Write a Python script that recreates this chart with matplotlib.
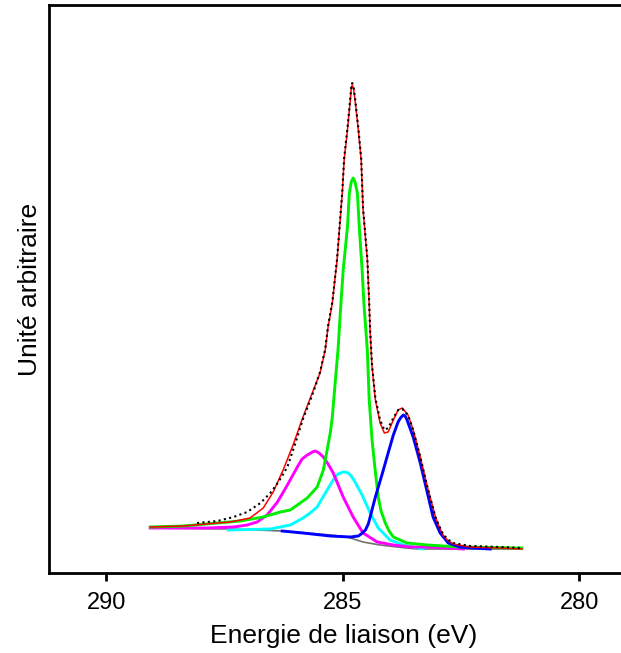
import matplotlib
matplotlib.use("Agg")
import matplotlib.pyplot as plt

plt.rcParams['font.family'] = ['Liberation Sans', 'DejaVu Sans']

# Binding energy (eV) / intensity (arbitrary units)
exp_E = [288.08, 287.65, 287.31, 287.02, 286.74, 286.53, 286.36, 286.17, 286.00, 285.84,
         285.62, 285.48, 285.37, 285.31, 285.22, 285.12, 285.01, 284.97, 284.90, 284.84,
         284.82, 284.80, 284.77, 284.74, 284.67, 284.61, 284.57, 284.48, 284.44, 284.42,
         284.38, 284.31, 284.21, 284.12, 284.04, 283.93, 283.83, 283.74, 283.62, 283.51,
         283.36, 283.21, 283.04, 282.96, 282.88, 282.79, 282.66, 282.30, 281.67, 281.25]
exp_I = [50, 52, 56, 61, 70, 80, 91, 106, 130, 154,
         181, 201, 224, 247, 271, 314, 381, 415, 445, 475,
         486, 490, 486, 475, 445, 415, 365, 315, 270, 242,
         208, 175, 153, 143, 145, 155, 163, 164, 158, 143,
         116, 86, 56, 47, 39, 34, 30, 27, 26, 25]

fit_E = [289.07, 288.37, 287.65, 287.38, 286.96, 286.68, 286.47, 286.26, 286.05, 285.84,
         285.62, 285.48, 285.37, 285.31, 285.22, 285.12, 285.01, 284.97, 284.90, 284.84,
         284.82, 284.80, 284.77, 284.74, 284.67, 284.61, 284.57, 284.48, 284.44, 284.42,
         284.38, 284.31, 284.21, 284.12, 284.04, 283.93, 283.83, 283.74, 283.62, 283.51,
         283.36, 283.21, 283.04, 282.96, 282.88, 282.79, 282.66, 282.30, 281.67, 281.21]
fit_I = [46, 47, 50, 51, 55, 65, 81, 103, 128, 156,
         183, 200, 223, 246, 270, 313, 380, 413, 443, 473,
         484, 488, 484, 473, 443, 413, 363, 313, 268, 240,
         206, 173, 150, 140, 141, 153, 163, 165, 158, 143,
         116, 86, 56, 46, 38, 33, 29, 26, 25, 24]

c1_E = [289.07, 288.37, 287.65, 287.17, 286.68, 286.32, 286.11, 285.96, 285.75, 285.54,
        285.41, 285.33, 285.26, 285.22, 285.16, 285.10, 285.05, 284.99, 284.90, 284.86,
        284.82, 284.78, 284.74, 284.69, 284.65, 284.59, 284.55, 284.48, 284.44, 284.38,
        284.33, 284.25, 284.19, 284.10, 284.02, 283.93, 283.64, 283.21, 282.52, 281.21]
c1_I = [46, 47, 50, 52, 56, 61, 63, 68, 75, 86,
        103, 123, 141, 156, 190, 223, 261, 303, 346, 380,
        391, 395, 391, 380, 346, 303, 268, 223, 173, 133,
        110, 76, 62, 50, 42, 36, 30, 28, 26, 25]

c2_E = [289.07, 287.86, 287.31, 287.02, 286.81, 286.60, 286.38, 286.17, 285.96, 285.86,
        285.75, 285.64, 285.58, 285.50, 285.41, 285.31, 285.20, 284.99, 284.78, 284.57,
        284.27, 283.93, 283.57, 283.15, 282.45]
c2_I = [45, 45, 46, 48, 51, 58, 71, 88, 106, 114,
        118, 121, 122, 120, 116, 109, 100, 76, 56, 40,
        31, 28, 26, 26, 24]

c3_E = [287.42, 286.53, 286.11, 285.84, 285.69, 285.54, 285.43, 285.33, 285.24, 285.16,
        285.10, 284.99, 284.95, 284.88, 284.82, 284.74, 284.59, 284.42, 284.25, 284.00,
        283.72, 283.30]
c3_I = [43, 44, 48, 55, 60, 66, 75, 83, 90, 96,
        99, 101, 101, 100, 97, 91, 78, 60, 45, 33,
        28, 24]

c4_E = [286.28, 285.84, 285.26, 284.84, 284.67, 284.61, 284.52, 284.46, 284.42, 284.31,
        284.16, 284.04, 283.93, 283.83, 283.78, 283.72, 283.68, 283.64, 283.51, 283.36,
        283.21, 283.09, 282.94, 282.77, 282.52, 282.24, 281.88]
c4_I = [42, 40, 37, 36, 37, 39, 43, 49, 56, 76,
        100, 120, 138, 151, 155, 158, 157, 153, 136, 110,
        80, 56, 40, 30, 26, 25, 24]

bg_E = [289.07, 287.38, 286.28, 285.26, 284.90, 284.57, 284.21, 283.85, 283.43, 281.21]
bg_I = [45, 44, 42, 38, 36, 31, 28, 26, 24, 24]

x_ticks = [290, 285, 280]

fig = plt.figure(figsize=(6.21, 6.53), dpi=100)
ax = fig.add_axes([0.0789, 0.1225, 0.95, 0.8698])

ax.plot(bg_E, bg_I, color='#707070', lw=1.2)
ax.plot(c3_E, c3_I, color='#00ffff', lw=2.1)
ax.plot(c2_E, c2_I, color='#ff00ff', lw=2.1)
ax.plot(c1_E, c1_I, color='#00ee00', lw=2.1)
ax.plot(c4_E, c4_I, color='#0000ff', lw=2.1)
ax.plot(fit_E, fit_I, color='#ff0000', lw=1.1)
ax.plot(exp_E, exp_I, color='black', lw=1.5, linestyle=(0, (1, 1.6)))

ax.set_xlim(291.21, 291.21 - 0.95 * 621 / 47.3)
ax.set_ylim(0, 568)
ax.set_xticks(x_ticks)
ax.set_yticks([])
ax.tick_params(axis='x', direction='out', length=6, width=2, labelsize=17, pad=8)
for s in ['left', 'bottom', 'top']:
    ax.spines[s].set_linewidth(2)
ax.spines['right'].set_visible(False)

ax.set_xlabel('Energie de liaison (eV)', fontsize=19, labelpad=7)
ax.set_ylabel('Unité arbitraire', fontsize=19, labelpad=5)

fig.savefig('out.png', dpi=100)
